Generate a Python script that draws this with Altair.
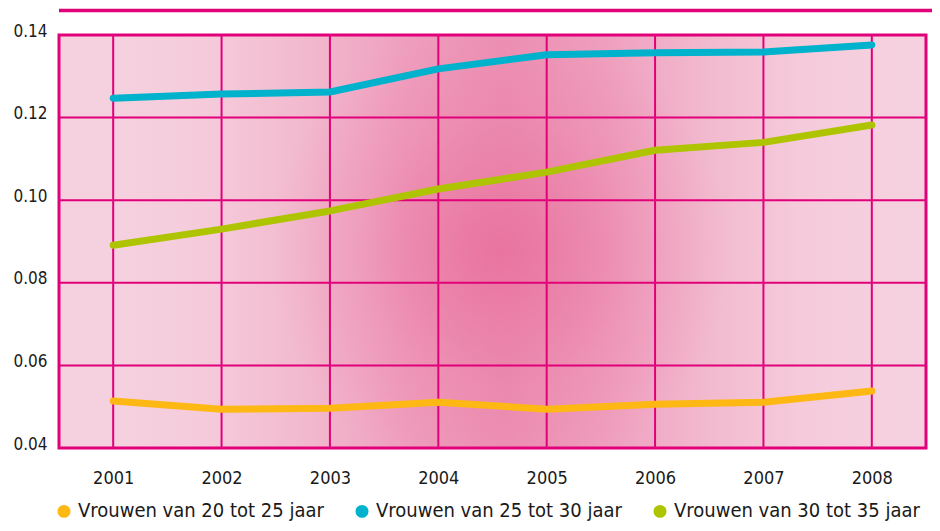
import altair as alt
import pandas as pd

# ---- data ----
years = ["2001", "2002", "2003", "2004", "2005", "2006", "2007", "2008"]
series_names = [
    "Vrouwen van 20 tot 25 jaar",
    "Vrouwen van 25 tot 30 jaar",
    "Vrouwen van 30 tot 35 jaar",
]
v20_25 = [0.0514, 0.0494, 0.0496, 0.0511, 0.0494, 0.0506, 0.0511, 0.0538]
v25_30 = [0.1247, 0.1257, 0.1262, 0.1318, 0.1352, 0.1357, 0.1359, 0.1376]
v30_35 = [0.0891, 0.0930, 0.0974, 0.1027, 0.1068, 0.1121, 0.1140, 0.1182]
y_ticks = [0.04, 0.06, 0.08, 0.10, 0.12, 0.14]
colors = ["#FDB813", "#00B2CC", "#AFC400"]

# ---- style ----
MAG = "#E2007A"
LIGHT = "#F5D0DE"
W, H = 867, 413
CX, CY, RG = 441, 215, 230   # centre / radius of the central glow (plot coords)
LABEL_FONT = "DejaVu Sans Condensed, sans-serif"
LEGEND_FONT = "DejaVu Sans Condensed, sans-serif"

rows = []
for name, vals in zip(series_names, [v20_25, v25_30, v30_35]):
    for yr, v in zip(years, vals):
        rows.append({"year": yr, "value": v, "series": name})
df = pd.DataFrame(rows)

x_enc = alt.X(
    "year:O",
    scale=alt.Scale(type="point", padding=0.5, domain=years),
    axis=alt.Axis(title=None, labelAngle=0, labelPadding=21, labelFontSize=18,
                  labelFont=LABEL_FONT, labelColor="#1a1a1a", domain=False,
                  ticks=False, grid=False),
)
y_enc = alt.Y(
    "value:Q",
    scale=alt.Scale(domain=[0.04, 0.14], nice=False, zero=False),
    axis=alt.Axis(title=None, values=y_ticks, format=".2f", labelPadding=12,
                  labelFontSize=17, labelFont=LABEL_FONT, labelColor="#1a1a1a",
                  labelFlush=False, labelOffset=-4, domain=False, ticks=False,
                  grid=False),
)

# horizontal light-dark-light band
band_gradient = {
    "gradient": "linear",
    "x1": 0, "y1": 0, "x2": 1, "y2": 0,
    "stops": [
        {"offset": 0.0, "color": LIGHT},
        {"offset": 0.076, "color": LIGHT},
        {"offset": 0.168, "color": "#F5CBDB"},
        {"offset": 0.284, "color": "#F2B9CE"},
        {"offset": 0.399, "color": "#EF9FBE"},
        {"offset": 0.514, "color": "#EC90B3"},
        {"offset": 0.630, "color": "#EF9FBE"},
        {"offset": 0.745, "color": "#F2B9CE"},
        {"offset": 0.860, "color": "#F5CBDB"},
        {"offset": 0.953, "color": LIGHT},
        {"offset": 1.0, "color": LIGHT},
    ],
}
# central circular glow
glow_gradient = {
    "gradient": "radial",
    "x1": 0.5, "y1": 0.5, "r1": 0,
    "x2": 0.5, "y2": 0.5, "r2": 0.5,
    "stops": [
        {"offset": 0.0, "color": "rgba(233,116,159,1)"},
        {"offset": 0.3, "color": "rgba(233,116,159,0.6)"},
        {"offset": 0.6, "color": "rgba(233,116,159,0.25)"},
        {"offset": 1.0, "color": "rgba(233,116,159,0)"},
    ],
}

one = pd.DataFrame({"k": [0]})

bg_band = alt.Chart(one).mark_rect(fill=band_gradient).encode(
    x=alt.value(0), x2=alt.value("width"), y=alt.value(0), y2=alt.value("height"),
)
bg_glow = alt.Chart(one).mark_rect(clip=True, fill=glow_gradient).encode(
    x=alt.value(CX - RG), x2=alt.value(CX + RG),
    y=alt.value(CY - RG), y2=alt.value(CY + RG),
)

vgrid = alt.Chart(pd.DataFrame({"year": years})).mark_rule(
    color=MAG, strokeWidth=2
).encode(x=x_enc, y=alt.value(0), y2=alt.value("height"))

hgrid = alt.Chart(pd.DataFrame({"value": y_ticks})).mark_rule(
    color=MAG, strokeWidth=2
).encode(y=y_enc, x=alt.value(0), x2=alt.value("width"))

border = alt.Chart(one).mark_rect(
    filled=False, stroke=MAG, strokeWidth=3
).encode(x=alt.value(0), x2=alt.value("width"), y=alt.value(0), y2=alt.value("height"))

top_rule = alt.Chart(one).mark_rule(
    color=MAG, strokeWidth=3.5
).encode(x=alt.value(0), x2=alt.value(W + 10), y=alt.value(-24.5))

lines = alt.Chart(df).mark_line(
    strokeWidth=7, strokeCap="round", strokeJoin="round"
).encode(
    x=x_enc,
    y=y_enc,
    color=alt.Color(
        "series:N",
        scale=alt.Scale(domain=series_names, range=colors),
        legend=alt.Legend(
            title=None, orient="none", legendX=-5, legendY=466,
            direction="horizontal", symbolType="circle", symbolSize=42,
            symbolStrokeWidth=6.5, labelFont=LEGEND_FONT, labelFontSize=20,
            labelColor="#1a1a1a", labelOffset=4, columnPadding=21,
            labelLimit=400,
        ),
    ),
    order=alt.Order("year:O"),
)

chart = alt.layer(bg_band, bg_glow, hgrid, vgrid, border, top_rule, lines).properties(
    width=W, height=H,
    autosize=alt.AutoSizeParams(type="none"),
    padding={"left": 51, "top": 27, "right": 6, "bottom": 74},
    background="white",
).configure_view(stroke=None, fill=LIGHT)

chart.save("out.html", embed_options={"renderer": "svg", "actions": False})
